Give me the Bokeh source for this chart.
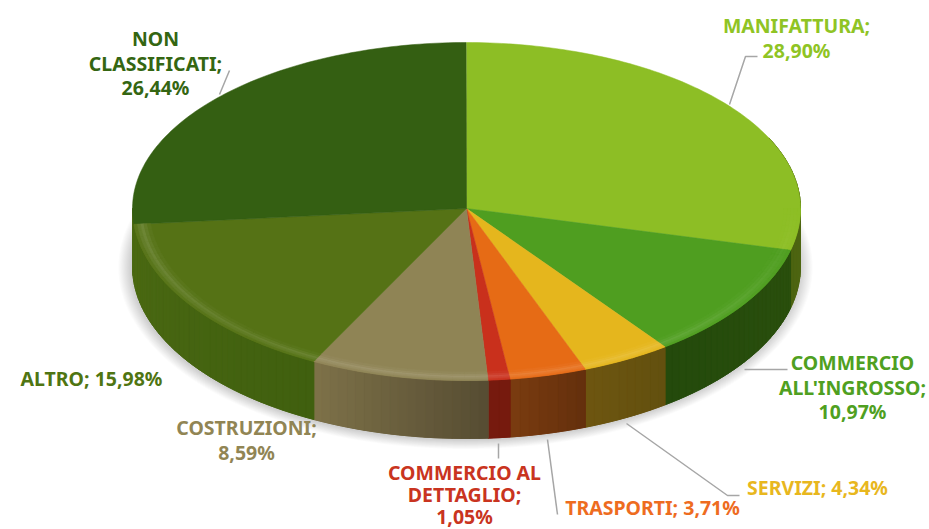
import math
from bokeh.plotting import figure
from bokeh.models import Range1d
from bokeh.core.properties import value
from bokeh.embed import file_html
from bokeh.resources import INLINE

# ---- data ----
sectors = ["MANIFATTURA", "COMMERCIO ALL'INGROSSO", "SERVIZI", "TRASPORTI",
           "COMMERCIO AL DETTAGLIO", "COSTRUZIONI", "ALTRO", "NON CLASSIFICATI"]
shares = [28.90, 10.97, 4.34, 3.71, 1.05, 8.59, 15.98, 26.44]
top_colors = ["#8DBE25", "#4F9E20", "#E5B61D", "#E66B15", "#C9301C", "#8F8455", "#557215", "#345F12"]
side_from = ["#66791A", "#2A4F0D", "#63500F", "#65300D", "#761A0E", "#574D33", "#40600F", "#2A4F0D"]
side_to = ["#4C6412", "#244A0C", "#6E5610", "#7C3D10", "#761A0E", "#7F7349", "#4C6A13", "#2A4F0D"]
text_colors = ["#8FC424", "#4FA021", "#E8B71E", "#EE6C1F", "#C93420", "#918554", "#4F7512", "#346612"]
label_lines = [["MANIFATTURA;", "28,90%"], ["COMMERCIO", "ALL'INGROSSO;", "10,97%"], ["SERVIZI; 4,34%"],
               ["TRASPORTI; 3,71%"], ["COMMERCIO AL", "DETTAGLIO;", "1,05%"], ["COSTRUZIONI;", "8,59%"],
               ["ALTRO; 15,98%"], ["NON", "CLASSIFICATI;", "26,44%"]]
label_x = [796, 852, 817, 652, 464, 246, 91, 155]
label_y = [25, 362, 487, 507, 473, 427, 378, 38]
leader_x = [[729, 745, 757], [744, 787], [626, 727, 739], [547, 557], [498, 498], [], [], [219, 229]]
leader_y = [[104, 56, 56], [369, 369], [423, 495, 495], [439, 514], [443, 458], [], [], [94, 70]]

# ---- geometry ----
CX, CY, RX, RY_UP, RY_DOWN, DEPTH = 466, 208, 334, 166, 172, 58
LINE_STEP = 24.5


def pt(theta, k=1.0, dy=0.0):
    c = -math.cos(theta)
    ry = RY_DOWN if c > 0 else RY_UP
    return CX + RX * k * math.sin(theta), CY + ry * k * c + dy


def blend(a, b, t):
    a = [int(a[i:i + 2], 16) for i in (1, 3, 5)]
    b = [int(b[i:i + 2], 16) for i in (1, 3, 5)]
    return "#%02x%02x%02x" % tuple(round(x + (y - x) * t) for x, y in zip(a, b))


p = figure(width=929, height=529, x_range=Range1d(0, 929), y_range=Range1d(529, 0),
           output_backend="svg", toolbar_location=None, min_border=0,
           outline_line_color=None)
p.axis.visible = False
p.grid.visible = False

# soft shadow under the disc
ring = [2 * math.pi * i / 180 for i in range(180)]
for k in range(1, 13):
    pts = [(CX + (RX + k * 1.1) * math.sin(t) - 1, CY + DEPTH + 1 + (RY_DOWN + k * 0.8) * -math.cos(t)) for t in ring]
    p.patch([a for a, _ in pts], [b for _, b in pts], fill_color="#000000", fill_alpha=0.016, line_color=None)

# slices
cum = 0.0
spans = []
for s in shares:
    spans.append((cum / 100 * 2 * math.pi, (cum + s) / 100 * 2 * math.pi))
    cum += s

# the rim: the last slice's rim is hidden behind the disc, the one before it wraps the left edge
for i, (a0, a1) in enumerate(spans):
    if i == 7:
        continue
    if i == 6:
        a1 = max(a1, 1.5 * math.pi)
    n = max(2, int((a1 - a0) / math.radians(1.5)))
    ts = [a0 + (a1 - a0) * j / n for j in range(n + 1)]
    xs, ys, cs = [], [], []
    kept = []
    for j in range(n):
        if math.cos((ts[j] + ts[j + 1]) / 2) > 0.25 and abs(math.sin(ts[j])) < 0.9:
            continue
        kept.extend([ts[j], ts[j + 1]])
        q = [pt(ts[j]), pt(ts[j + 1]), pt(ts[j + 1], dy=DEPTH), pt(ts[j], dy=DEPTH)]
        xs.append([c[0] for c in q])
        ys.append([c[1] for c in q])
        cs.append(blend(side_from[i], side_to[i], j / n))
    if xs:
        back = [pt(t) for t in kept] + [pt(t, dy=DEPTH) for t in reversed(kept)]
        mid = blend(side_from[i], side_to[i], 0.5)
        p.patch([c[0] for c in back], [c[1] for c in back], fill_color=mid, line_color=mid, line_width=0.8)
        p.patches(xs, ys, fill_color=cs, line_color=cs, line_width=0.8)

for i, (a0, a1) in enumerate(spans):
    n = max(2, int((a1 - a0) / math.radians(1.0)))
    ts = [a0 + (a1 - a0) * j / n for j in range(n + 1)]
    edge = [pt(t) for t in ts]
    p.patch([CX] + [e[0] for e in edge], [CY] + [e[1] for e in edge],
            fill_color=top_colors[i], line_color=top_colors[i], line_width=0.5)

# rim highlight on the lower edge of the top face
rings = [(0.99, 1.0, 0.03), (0.98, 0.99, 0.09), (0.97, 0.98, 0.14), (0.96, 0.97, 0.08), (0.95, 0.96, 0.03)]
for i, (a0, a1) in enumerate(spans):
    if i == 7:
        continue
    n = max(2, int((a1 - a0) / math.radians(2.0)))
    ts = [a0 + (a1 - a0) * j / n for j in range(n + 1)]
    xs, ys, cs = [], [], []
    for k0, k1, amount in rings:
        for j in range(n):
            tm = (ts[j] + ts[j + 1]) / 2
            strength = max(0.0, -math.cos(tm), -math.sin(tm))
            if strength <= 0:
                continue
            q = [pt(ts[j], k1), pt(ts[j + 1], k1), pt(ts[j + 1], k0), pt(ts[j], k0)]
            xs.append([c[0] for c in q])
            ys.append([c[1] for c in q])
            cs.append(blend(top_colors[i], "#ffffff", amount * strength))
    if xs:
        p.patches(xs, ys, fill_color=cs, line_color=cs, line_width=0.5)

# leader lines
for lx, ly in zip(leader_x, leader_y):
    if lx:
        p.line(lx, ly, line_color="#A6A6A6", line_width=1.5)

# labels: the lowest one is kept slightly tighter so that it stays whole inside the frame
for i, lines in enumerate(label_lines):
    ys = [label_y[i] + LINE_STEP * j for j in range(len(lines))]
    if i == 4:
        ys = [label_y[i] - 1 + 22 * j for j in range(len(lines))]
    p.text([label_x[i]] * len(lines), ys, text=lines,
           text_color=text_colors[i], text_font=value("Noto Sans"), text_font_size="19.5px",
           text_font_style="bold", text_align="center", text_baseline="middle")

open("out.html", "w").write(file_html(p, INLINE))
